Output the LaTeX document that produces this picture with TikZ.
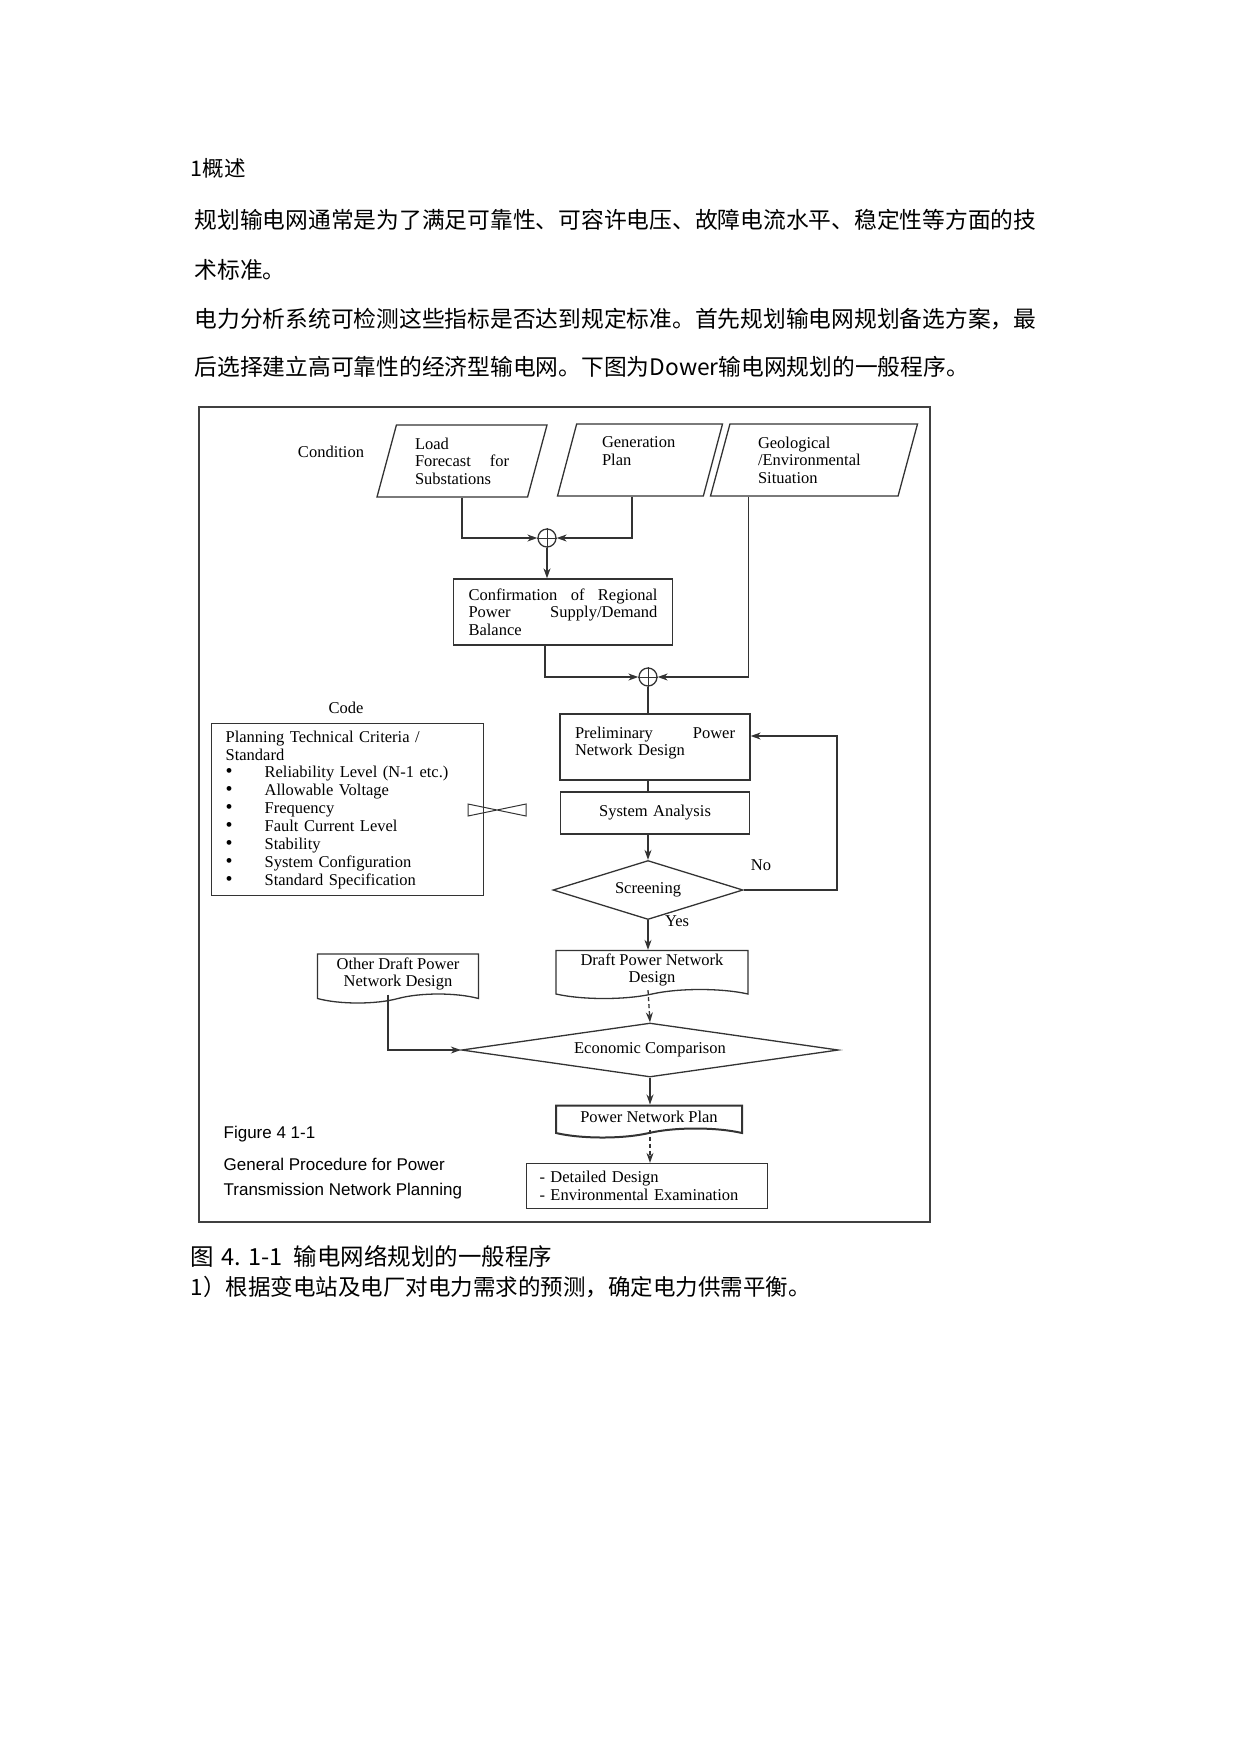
\documentclass[tikz,border=0pt]{standalone}
\usepackage{fontspec}
\setmainfont{Liberation Serif}
\setsansfont{Liberation Sans}
\newfontfamily\cjk{Noto Sans CJK SC}
\usetikzlibrary{shapes.geometric,shapes.symbols,arrows.meta}

\newcommand{\critem}{\makebox[39pt][l]{\smash{\fontsize{20}{17}\selectfont\textbullet}}}

\begin{document}
\begin{tikzpicture}[x=1pt,y=-1pt,line width=1.3pt,
    every node/.style={font=\fontsize{16.5}{17.5}\selectfont},
    para/.style={anchor=west,inner sep=0,font=\cjk\fontsize{22.75}{28}\selectfont},
    cond/.style={draw=black!80,trapezium,trapezium left angle=69,trapezium right angle=111,
      trapezium stretches body=true,minimum height=72,inner sep=2pt,align=left},
    proc/.style={draw=black!80,rectangle,inner xsep=15pt,inner ysep=4pt,align=left},
    doc/.style={draw=black!80,tape,tape bend top=none,tape bend height=9pt,inner sep=3pt,align=center},
    dec/.style={draw=black!80,diamond,inner sep=0pt},
    sum/.style={draw=black!80,circle,minimum size=18,inner sep=0pt},
    flow/.style={draw=black!80,-{Stealth[length=10pt,width=7pt]}},
    link/.style={draw=black!80},
    figtext/.style={anchor=west,inner sep=0,font=\sffamily\fontsize{17}{20}\selectfont}]
    \useasboundingbox (0,0) rectangle (1241,1754);

    \node[para,font=\cjk\fontsize{21.5}{28}\selectfont] (head) at (190,168) {1概述};
    \node[para] (line1) at (194,220) {规划输电网通常是为了满足可靠性、可容许电压、故障电流水平、稳定性等方面的技};
    \node[para] (line2) at (194,270) {术标准。};
    \node[para] (line3) at (194,319) {电力分析系统可检测这些指标是否达到规定标准。首先规划输电网规划备选方案，最};
    \node[para] (line4) at (194,367) {后选择建立高可靠性的经济型输电网。下图为Dower输电网规划的一般程序。};

    \draw[draw=black!75] (199,407) rectangle (930,1222);

    \node (condition) at (331,452) {Condition};
    \node[cond,minimum width=170,text width=94] (load) at (462,461) {Load\\Forecast\hfill for\\Substations};
    \node[cond,minimum width=165,text width=76] (gen) at (640,460) {Generation\\Plan\\~};
    \node[cond,minimum width=207,text width=112] (geo) at (814,460) {Geological\\/Environmental\\Situation};

    \node[sum] (sum1) at (547,538) {};
    \draw[link,line width=1pt] (sum1.north) -- (sum1.south) (sum1.west) -- (sum1.east);
    \node[proc,text width=189,minimum height=66] (conf) at (563,612) {Confirmation\hfill of\hfill Regional\\Power\hfill Supply/Demand\\Balance};
    \node[sum] (sum2) at (648,677) {};
    \draw[link,line width=1pt] (sum2.north) -- (sum2.south) (sum2.west) -- (sum2.east);

    \node (code) at (346,708) {Code};
    \node[proc,anchor=north west,text width=244,inner xsep=14pt,inner ysep=7pt,
      font=\fontsize{16.5}{17.9}\selectfont] (crit) at (211,723) {Planning Technical Criteria /\\Standard\\
      \critem Reliability Level (N-1 etc.)\\
      \critem Allowable Voltage\\
      \critem Frequency\\
      \critem Fault Current Level\\
      \critem Stability\\
      \critem System Configuration\\
      \critem Standard Specification};
    \draw[draw=black!80,line width=1pt] (468,804) -- (497,810) -- (526,804) -- (526,816) -- (497,810) -- (468,816) -- cycle;

    \node[proc,text width=160,minimum height=66] (prelim) at (655,747) {Preliminary\hfill Power\\Network Design\\[-6pt]~};
    \node[proc,text width=159,minimum height=42,align=center] (sa) at (655,813) {System Analysis};
    \node[dec,aspect=4,minimum width=190,minimum height=59] (screen) at (648,890) {Screening};
    \node (no) at (761,865) {No};
    \node (yes) at (677,921) {Yes};
    \coordinate (loop) at (837,736);

    \node[doc,minimum width=192,minimum height=48] (draft) at (652,970) {Draft Power Network\\Design};
    \node[doc,minimum width=161,minimum height=49] (other) at (398,974) {Other Draft Power\\Network Design};
    \node[dec,aspect=7,minimum width=377,minimum height=54] (econ) at (650,1050) {Economic Comparison};
    \node[doc,minimum width=186,minimum height=32,line width=2pt] (plan) at (649,1117) {Power Network Plan};
    \node[proc,text width=215,inner xsep=13pt,minimum height=45] (detail) at (647,1186) {- Detailed Design\\- Environmental Examination};

    \draw[flow] (load.south) |- (sum1.west);
    \draw[flow] ([xshift=-8pt]gen.south) |- (sum1.east);
    \draw[flow] (sum1.south) -- (sum1.south |- conf.north);
    \draw[flow] ([xshift=-18pt]conf.south) |- (sum2.west);
    \draw[flow] ([xshift=39pt]geo.bottom left corner) |- (sum2.east);
    \draw[link] (sum2.south) -- (sum2.south |- prelim.north);
    \draw[link] (sum2 |- prelim.south) -- (sum2 |- sa.north);
    \draw[flow] (sum2 |- sa.south) -- (screen.north);
    \draw[flow] (screen.east) -| (loop) -- ([yshift=11pt]prelim.east);
    \draw[flow] (screen.south) -- (screen.south |- draft.north);
    \draw[flow,dash pattern=on 4pt off 3pt] (screen.south |- draft.south) -- (econ.north);
    \draw[flow] ([xshift=-10pt]other.south) |- (econ.west);
    \draw[flow] (econ.south) -- (econ.south |- plan.north);
    \draw[flow,dash pattern=on 4pt off 3pt] (econ.south |- plan.south) -- (econ.south |- detail.north);

    \node[figtext] (fig) at (223,1134) {Figure 4 1-1};
    \node[figtext] (figa) at (223,1164) {General Procedure for Power};
    \node[figtext] (figb) at (223,1191) {Transmission Network Planning};

    \node[para,font=\cjk\fontsize{23.5}{28}\selectfont] (caption) at (190,1256) {\makebox[31pt][l]{图}\makebox[27pt][l]{4.}\makebox[45pt][l]{1-1}输电网络规划的一般程序};
    \node[para,font=\cjk\fontsize{22.5}{28}\selectfont] (step1) at (190,1287) {1）根据变电站及电厂对电力需求的预测，确定电力供需平衡。};
\end{tikzpicture}
\end{document}
